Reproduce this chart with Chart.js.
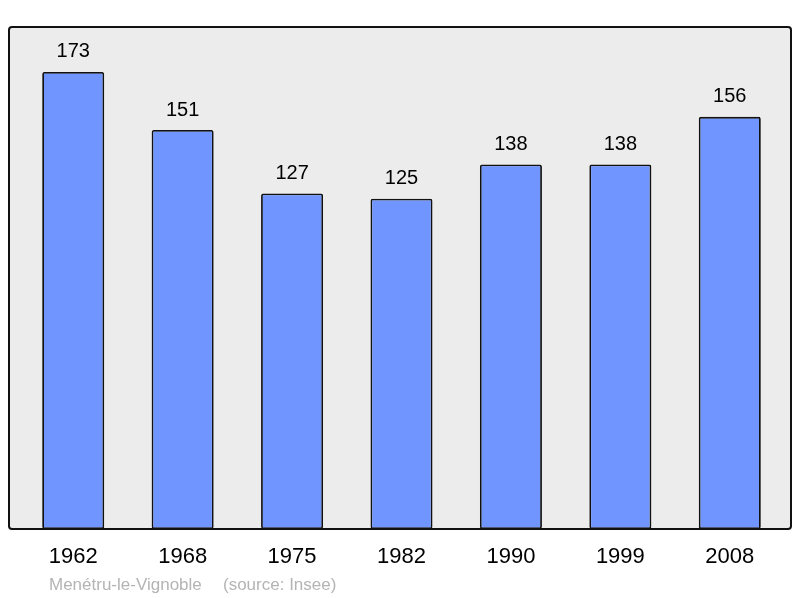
<!DOCTYPE html>
<html>
<head>
<meta charset="utf-8">
<script src="https://cdn.jsdelivr.net/npm/chart.js@4.4.0/dist/chart.umd.min.js"></script>
<style>
  body { margin: 0; background: #fff; }
  canvas { display: block; }
</style>
</head>
<body>
<canvas id="myChart" width="800" height="598"></canvas>
<script>
var years = ["1962", "1968", "1975", "1982", "1990", "1999", "2008"];
var population = [173, 151, 127, 125, 138, 138, 156];
var yMax = 190;
var townName = "Menétru-le-Vignoble";
var sourceText = "(source: Insee)";

// grey box behind the bars
var framePlugin = {
    id: 'frame',
    beforeDatasetsDraw: function (chart) {
        var ctx = chart.ctx;
        var a = chart.chartArea;
        var x0 = a.left - 9.5, x1 = a.right + 6.5;
        ctx.save();
        ctx.beginPath();
        ctx.roundRect(x0, a.top, x1 - x0, a.bottom - a.top, 3);
        ctx.fillStyle = '#ececec';
        ctx.fill();
        ctx.restore();
    },
    afterDatasetsDraw: function (chart) {
        var ctx = chart.ctx;
        var a = chart.chartArea;
        var x0 = a.left - 9.5, x1 = a.right + 6.5;
        ctx.save();
        ctx.beginPath();
        ctx.roundRect(x0, a.top, x1 - x0, a.bottom - a.top, 3);
        ctx.lineWidth = 2;
        ctx.strokeStyle = '#111';
        ctx.stroke();
        ctx.restore();
    }
};

// numbers above the bars + source line
var labelPlugin = {
    id: 'labels',
    afterDraw: function (chart) {
        var ctx = chart.ctx;
        var meta = chart.getDatasetMeta(0);
        ctx.save();
        ctx.font = '20px "Liberation Sans", Arial, sans-serif';
        ctx.fillStyle = '#000';
        ctx.textAlign = 'center';
        ctx.textBaseline = 'middle';
        meta.data.forEach(function (bar, i) {
            ctx.fillText(String(population[i]), bar.x, bar.y - 20);
        });
        ctx.font = '17px "Liberation Sans", Arial, sans-serif';
        ctx.fillStyle = '#b4b4b4';
        ctx.textAlign = 'left';
        ctx.fillText(townName, 49, 585);
        ctx.fillText(sourceText, 223, 585);
        ctx.restore();
    }
};

var ctx = document.getElementById('myChart').getContext('2d');
var chart = new Chart(ctx, {
    type: 'bar',
    data: {
        labels: years,
        datasets: [{
            label: 'Population',
            data: population,
            backgroundColor: '#7095ff',
            borderColor: '#111',
            borderWidth: 1.8,
            borderRadius: 2,
            borderSkipped: false,
            barPercentage: 0.567,
            categoryPercentage: 1
        }]
    },
    options: {
        responsive: false,
        animation: false,
        layout: { padding: { left: 18.5, right: 15.5, top: 27, bottom: 12.6 } },
        plugins: {
            legend: { display: false },
            tooltip: { enabled: false }
        },
        scales: {
            x: {
                grid: { display: false, drawTicks: false },
                border: { display: false },
                ticks: {
                    padding: 15,
                    color: '#000',
                    font: { family: '"Liberation Sans", Arial, sans-serif', size: 22 }
                }
            },
            y: { display: false, min: 0, max: yMax }
        }
    },
    plugins: [framePlugin, labelPlugin]
});
</script>
</body>
</html>
